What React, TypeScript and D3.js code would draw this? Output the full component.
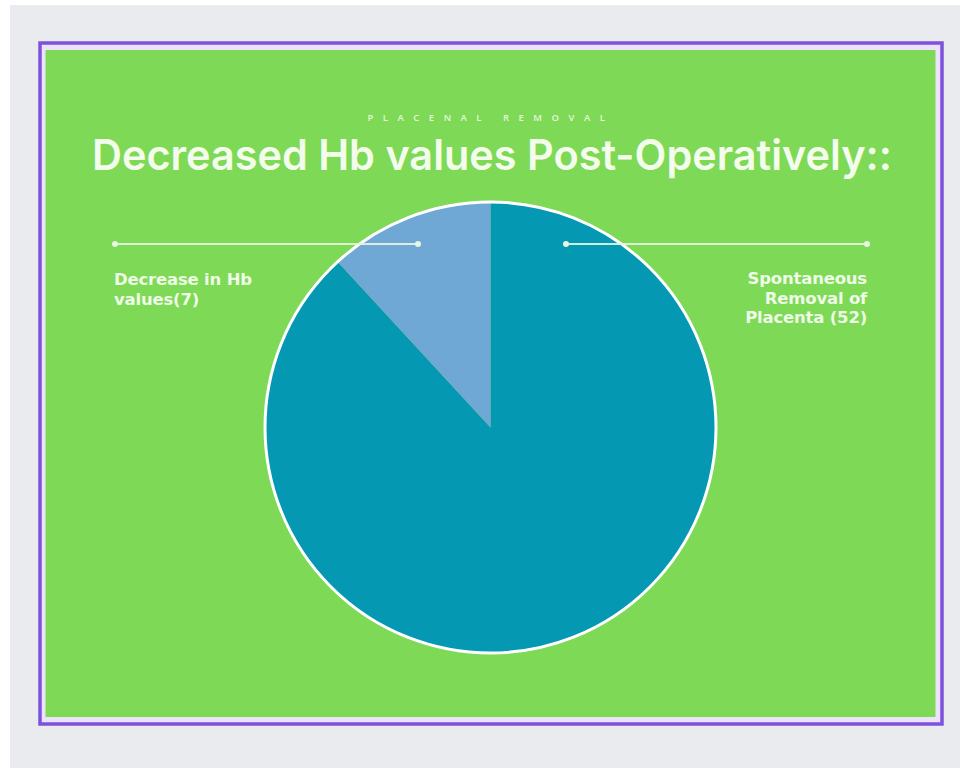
import React from "react";
import * as d3 from "d3";

const categories = ["Spontaneous Removal of Placenta (52)", "Decrease in Hb values(7)"];
const values = [52, 7];
const sliceColors = ["#0598b3", "#6fa8d4"];
const leftLabelLines = ["Decrease in Hb", "values(7)"];
const rightLabelLines = ["Spontaneous", "Removal of", "Placenta (52)"];
const titleText = "Decreased Hb values Post-Operatively::";
const subtitleText = "PLACENAL REMOVAL";

const W = 960;
const H = 768;

export default function App() {
  const cx = 490.5;
  const cy = 427.5;
  const r = 225.5;
  const pie = d3.pie<number>().sort(null).value((d) => d);
  const arcs = pie(values);
  const arcGen = d3.arc<d3.PieArcDatum<number>>().innerRadius(0).outerRadius(r);
  const textFill = "#eefbe6";
  const labelFont = "'DejaVu Sans', 'Open Sans', sans-serif";

  return (
    <svg
      width={W}
      height={H}
      style={{ position: "absolute", left: 0, top: 0, display: "block" }}
    >
      <rect x={0} y={0} width={W} height={H} fill="#ffffff" />
      <rect x={10} y={5} width={W - 10} height={H - 5} fill="#e9ebee" />
      {/* frame */}
      <rect x={40} y={43} width={902} height={681} fill="#ece2fb" stroke="#7d52dc" strokeWidth={3.5} />
      <rect x={45.5} y={50} width={890} height={667} fill="#7ed957" />

      <text
        x={491}
        y={121}
        textAnchor="middle"
        fill="#e4f7da"
        fontFamily="'Open Sans', sans-serif"
        fontSize={9.5}
        fontWeight={600}
        letterSpacing={9.5}
      >
        {subtitleText}
      </text>
      <text
        x={92}
        y={170}
        fill="#f4fdec"
        fontFamily="'Inter', 'Open Sans', sans-serif"
        fontWeight={600}
        fontSize={42}
        textLength={800}
        lengthAdjust="spacingAndGlyphs"
      >
        {titleText}
      </text>

      <g transform={`translate(${cx},${cy})`}>
        {arcs.map((a, i) => (
          <path key={categories[i]} d={arcGen(a) || ""} fill={sliceColors[i]} />
        ))}
        <circle r={r} fill="none" stroke="#ffffff" strokeWidth={3} />
      </g>

      {/* leader lines */}
      <g stroke="#e6f6e0" strokeWidth={2} opacity={0.9}>
        <line x1={115} y1={244} x2={418} y2={244} />
        <line x1={566} y1={244} x2={867} y2={244} />
      </g>
      <g fill="#e6f6e0">
        <circle cx={115} cy={244} r={3} />
        <circle cx={418} cy={244} r={3} />
        <circle cx={566} cy={244} r={3} />
        <circle cx={867} cy={244} r={3} />
      </g>

      <g fill={textFill} fontFamily={labelFont} fontWeight={700} fontSize={16.5}>
        {leftLabelLines.map((t, i) => (
          <text key={t} x={114} y={285 + i * 20} letterSpacing={-0.2}>
            {t}
          </text>
        ))}
        {rightLabelLines.map((t, i) => (
          <text key={t} x={867} y={284 + i * 19.5} textAnchor="end" letterSpacing={-0.2}>
            {t}
          </text>
        ))}
      </g>
    </svg>
  );
}
